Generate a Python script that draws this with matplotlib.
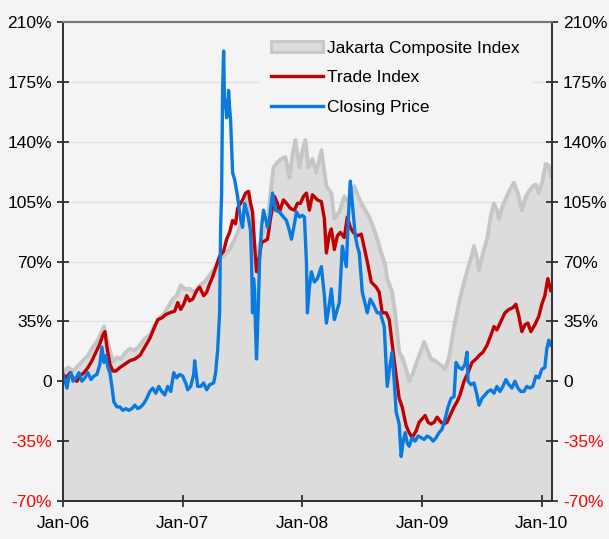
import numpy as np
import pandas as pd
import matplotlib
matplotlib.use("Agg")
import matplotlib.pyplot as plt
from matplotlib.patches import Patch
from matplotlib.lines import Line2D

plt.rcParams['font.family'] = ['Liberation Sans', 'DejaVu Sans']

# ---- data (x = months elapsed since Jan 2006, y = % change) ----
jci_months = [0.0, 0.5, 1.0, 1.5, 2.0, 2.5, 3.0, 3.5, 3.8, 4.1,
              4.4, 4.7, 5.0, 5.4, 5.8, 6.3, 6.7, 7.2, 7.7, 8.2,
              8.7, 9.2, 9.7, 10.2, 10.7, 11.0, 11.4, 11.8, 12.2, 12.7,
              13.2, 13.7, 14.2, 14.7, 15.2, 15.7, 16.2, 16.7, 17.2, 17.7,
              18.2, 18.5, 18.8, 19.1, 19.4, 19.7, 20.1, 20.5, 20.8, 21.1,
              21.5, 21.9, 22.3, 22.7, 23.0, 23.3, 23.7, 24.0, 24.3, 24.6,
              25.0, 25.4, 25.9, 26.4, 26.9, 27.2, 27.7, 28.2, 28.7, 29.2,
              29.6, 29.9, 30.3, 30.7, 31.1, 31.4, 31.9, 32.3, 32.5, 33.0,
              33.3, 33.7, 34.0, 34.4, 34.7, 35.1, 35.5, 35.9, 36.2, 36.6,
              36.9, 37.3, 37.7, 38.0, 38.3, 38.7, 39.2, 39.5, 39.7, 40.2,
              40.7, 41.0, 41.2, 41.5, 41.7, 42.1, 42.5, 42.9, 43.2, 43.5,
              43.7, 44.1, 44.4, 44.8, 45.2, 45.6, 46.0, 46.4, 46.7, 47.1,
              47.4, 47.7, 48.1, 48.4, 48.7, 48.9]
jci_values = [5, 8, 6, 9, 12, 15, 20, 24, 28, 32,
              25, 18, 11, 14, 13, 17, 19, 18, 21, 25,
              27, 33, 37, 40, 45, 48, 50, 56, 54, 54,
              52, 56, 58, 62, 66, 71, 74, 77, 83, 90,
              100, 108, 100, 82, 75, 80, 88, 92, 110, 125,
              128, 130, 131, 119, 132, 141, 125, 135, 141, 125,
              130, 122, 135, 114, 110, 95, 99, 108, 104, 114,
              108, 104, 100, 96, 90, 85, 75, 68, 60, 52,
              40, 17, 14, 7, 0, 5, 12, 18, 23, 17,
              13, 12, 10, 9, 7, 14, 32, 40, 46, 58,
              68, 74, 79, 72, 65, 75, 83, 97, 104, 100,
              95, 103, 107, 112, 116, 110, 100, 108, 111, 114,
              115, 110, 118, 127, 126, 120]

trade_months = [0.0, 0.3, 0.7, 1.1, 1.4, 1.7, 2.1, 2.5, 2.9, 3.3,
                3.7, 4.0, 4.2, 4.4, 4.7, 5.0, 5.3, 5.7, 6.2, 6.7,
                7.2, 7.7, 8.2, 8.7, 9.2, 9.5, 9.9, 10.3, 10.7, 11.2,
                11.5, 11.8, 12.1, 12.4, 12.7, 13.0, 13.4, 13.7, 14.1, 14.4,
                14.7, 15.0, 15.4, 15.7, 16.1, 16.4, 16.7, 17.0, 17.3, 17.5,
                17.8, 18.0, 18.3, 18.6, 18.8, 19.0, 19.2, 19.4, 19.6, 19.9,
                20.2, 20.5, 20.8, 21.2, 21.5, 21.7, 22.1, 22.4, 22.8, 23.2,
                23.5, 23.8, 24.1, 24.4, 24.7, 25.0, 25.5, 25.9, 26.2, 26.4,
                26.7, 26.9, 27.2, 27.5, 27.8, 28.2, 28.5, 28.8, 29.1, 29.5,
                29.9, 30.2, 30.5, 30.9, 31.4, 31.7, 32.0, 32.4, 32.7, 33.0,
                33.4, 33.7, 34.0, 34.4, 34.7, 35.0, 35.4, 35.7, 36.0, 36.3,
                36.6, 36.9, 37.2, 37.5, 37.9, 38.2, 38.5, 38.8, 39.2, 39.5,
                39.8, 40.2, 40.6, 41.0, 41.4, 41.7, 42.1, 42.5, 42.9, 43.2,
                43.5, 43.9, 44.3, 44.7, 45.1, 45.4, 45.7, 46.0, 46.3, 46.6,
                46.9, 47.3, 47.7, 48.0, 48.3, 48.6, 48.8, 48.9]
trade_values = [4, 2, 5, 1, 0, 3, 5, 8, 12, 17,
                22, 27, 29, 20, 10, 6, 6, 8, 10, 12,
                13, 15, 20, 25, 32, 36, 37, 39, 40, 41,
                46, 42, 45, 50, 47, 48, 53, 55, 50, 52,
                57, 61, 68, 73, 76, 83, 87, 94, 92, 101,
                104, 106, 110, 111, 104, 99, 80, 64, 70, 81,
                82, 83, 95, 108, 104, 99, 106, 104, 101, 100,
                104, 104, 108, 110, 100, 109, 106, 105, 95, 75,
                86, 89, 77, 85, 87, 84, 96, 90, 87, 85,
                86, 78, 70, 58, 55, 52, 40, 40, 36, 22,
                3, -10, -15, -26, -30, -33, -29, -24, -22, -20,
                -24, -25, -24, -21, -24, -25, -24, -20, -15, -12,
                -8, 0, 5, 11, 13, 15, 17, 21, 27, 32,
                30, 35, 40, 42, 43, 45, 38, 29, 33, 34,
                29, 33, 38, 45, 50, 60, 55, 53]

close_months = [0.0, 0.2, 0.4, 0.6, 0.8, 1.0, 1.3, 1.6, 1.9, 2.2,
                2.5, 2.8, 3.1, 3.4, 3.7, 3.9, 4.1, 4.3, 4.5, 4.7,
                4.9, 5.1, 5.4, 5.7, 6.0, 6.3, 6.6, 6.9, 7.2, 7.5,
                7.8, 8.1, 8.4, 8.7, 9.0, 9.3, 9.6, 9.9, 10.2, 10.5,
                10.8, 11.1, 11.4, 11.7, 12.0, 12.3, 12.5, 12.8, 13.1, 13.2,
                13.5, 13.8, 14.1, 14.4, 14.7, 15.1, 15.3, 15.5, 15.7, 15.8,
                15.9, 16.0, 16.1, 16.2, 16.3, 16.4, 16.5, 16.6, 16.7, 16.8,
                17.0, 17.2, 17.5, 17.8, 18.0, 18.2, 18.4, 18.6, 18.8, 18.9,
                19.0, 19.1, 19.2, 19.3, 19.4, 19.5, 19.6, 19.7, 19.9, 20.1,
                20.3, 20.5, 20.7, 21.0, 21.3, 21.7, 22.1, 22.4, 22.7, 22.9,
                23.2, 23.4, 23.7, 24.0, 24.2, 24.4, 24.5, 24.7, 24.9, 25.2,
                25.5, 25.9, 26.2, 26.4, 26.7, 26.9, 27.2, 27.5, 27.7, 28.0,
                28.4, 28.6, 28.8, 29.0, 29.3, 29.5, 29.7, 30.0, 30.3, 30.5,
                30.8, 31.1, 31.5, 31.8, 32.2, 32.5, 32.8, 33.0, 33.2, 33.4,
                33.7, 33.9, 34.1, 34.3, 34.5, 34.7, 35.0, 35.3, 35.6, 35.9,
                36.2, 36.5, 36.8, 37.1, 37.4, 37.7, 38.0, 38.3, 38.6, 38.9,
                39.2, 39.4, 39.7, 40.0, 40.3, 40.5, 40.6, 40.9, 41.2, 41.5,
                41.7, 42.0, 42.3, 42.6, 42.9, 43.2, 43.5, 43.8, 44.1, 44.4,
                44.7, 45.0, 45.3, 45.6, 45.9, 46.2, 46.5, 46.8, 47.1, 47.4,
                47.7, 48.0, 48.3, 48.5, 48.7, 48.9]
close_values = [4, 0, -4, 3, 5, 0, 2, 5, 0, 2,
                5, 1, 3, 4, 10, 20, 11, 15, 8, 5,
                -3, -12, -15, -15, -17, -16, -17, -16, -14, -16,
                -15, -13, -10, -6, -4, -7, -3, -6, -8, -3,
                -6, 5, 2, 4, 3, -1, -5, -3, 4, 12,
                -3, -3, -1, -5, -2, -1, 5, 18, 40, 90,
                110, 170, 193, 160, 164, 154, 158, 170, 160, 153,
                122, 118, 108, 95, 90, 104, 100, 95, 88, 70,
                40, 60, 54, 30, 13, 30, 48, 70, 90, 100,
                95, 90, 95, 110, 100, 99, 96, 94, 88, 83,
                92, 99, 96, 97, 96, 70, 40, 55, 64, 58,
                60, 67, 50, 34, 45, 54, 36, 42, 46, 79,
                67, 95, 117, 104, 85, 79, 75, 52, 45, 40,
                48, 45, 40, 40, 32, -3, 10, 17, 0, -18,
                -25, -44, -35, -30, -36, -38, -33, -35, -32, -33,
                -34, -32, -33, -35, -33, -30, -28, -22, -15, -10,
                -9, 11, 8, 7, 10, 17, 0, -2, -1, -8,
                -14, -10, -8, -6, -5, -7, -3, -6, -3, 1,
                -2, -4, 0, -4, -6, -6, -3, -4, -3, 3,
                2, 7, 8, 19, 24, 21]

y_ticks = [-70, -35, 0, 35, 70, 105, 140, 175, 210]
x_tick_labels = ['Jan-06', 'Jan-07', 'Jan-08', 'Jan-09', 'Jan-10']
series_names = ['Jakarta Composite Index', 'Trade Index', 'Closing Price']

start = pd.Timestamp('2006-01-01')
def to_dates(months):
    return start + pd.to_timedelta(np.asarray(months) * 30.436875, unit='D')

jci_x = to_dates(jci_months)
trade_x = to_dates(trade_months)
close_x = to_dates(close_months)

BG = '#f4f4f4'
GRAY_FILL = '#dcdcdc'
GRAY_LINE = '#c6c6c6'
RED = '#c00000'
BLUE = '#0a7ae0'

fig = plt.figure(figsize=(6.09, 5.39), dpi=100, facecolor=BG)
ax = fig.add_axes([63/609, 1-501/539, (552-63)/609, (501-22)/539], facecolor=BG)

ax.set_ylim(-70, 210)
ax.set_xlim(pd.Timestamp('2006-01-01'), pd.Timestamp('2010-02-01'))

for yt in y_ticks:
    if yt not in (-70, 210):
        ax.axhline(yt, color='#e2e2e2', lw=1.0, zorder=0)

ax.fill_between(jci_x, -70, jci_values, color=GRAY_FILL, lw=0, zorder=1)
ax.plot(jci_x, jci_values, color=GRAY_LINE, lw=2.8, zorder=2)
ax.plot(trade_x, trade_values, color=RED, lw=2.4, zorder=3)
ax.plot(close_x, close_values, color=BLUE, lw=2.4, zorder=4)

tick_dates = [pd.Timestamp(f'{y}-01-01') for y in range(2006, 2011)]
ax.set_xticks(tick_dates)
ax.set_xticklabels(x_tick_labels)

def fmt(v):
    return '0' if v == 0 else f'{v}%'

ax2 = ax.twinx()
ax2.set_ylim(-70, 210)
for a in (ax, ax2):
    a.set_yticks(y_ticks)
    a.set_yticklabels([fmt(v) for v in y_ticks])
    a.tick_params(axis='both', direction='inout', length=8, width=1.2, labelsize=12.5,
                  colors='#222222')
    a.tick_params(axis='y', pad=4)
    for s in ('left', 'right', 'bottom'):
        a.spines[s].set_color('#333333')
        a.spines[s].set_linewidth(1.3)
    a.spines['top'].set_color('#777777')
    a.spines['top'].set_linewidth(1.5)
    for lab, v in zip(a.get_yticklabels(), y_ticks):
        lab.set_color('#ff0000' if v < 0 else 'black')
for lab in ax.get_xticklabels():
    lab.set_color('black')
ax.tick_params(axis='x', pad=7)

handles = [Patch(facecolor=GRAY_FILL, edgecolor=GRAY_LINE, lw=2),
           Line2D([0], [0], color=RED, lw=2.4),
           Line2D([0], [0], color=BLUE, lw=2.4)]
leg = ax2.legend(handles, series_names, loc='upper left',
                 bbox_to_anchor=((252-63)/489, 1.0), borderaxespad=0.38,
                 borderpad=0.7, frameon=True, facecolor=BG, edgecolor='none',
                 framealpha=1.0, fancybox=False, fontsize=12.5, handlelength=3.0,
                 handletextpad=0.25, labelspacing=0.83, handleheight=0.6)

fig.savefig('out.png', dpi=100, facecolor=BG)
